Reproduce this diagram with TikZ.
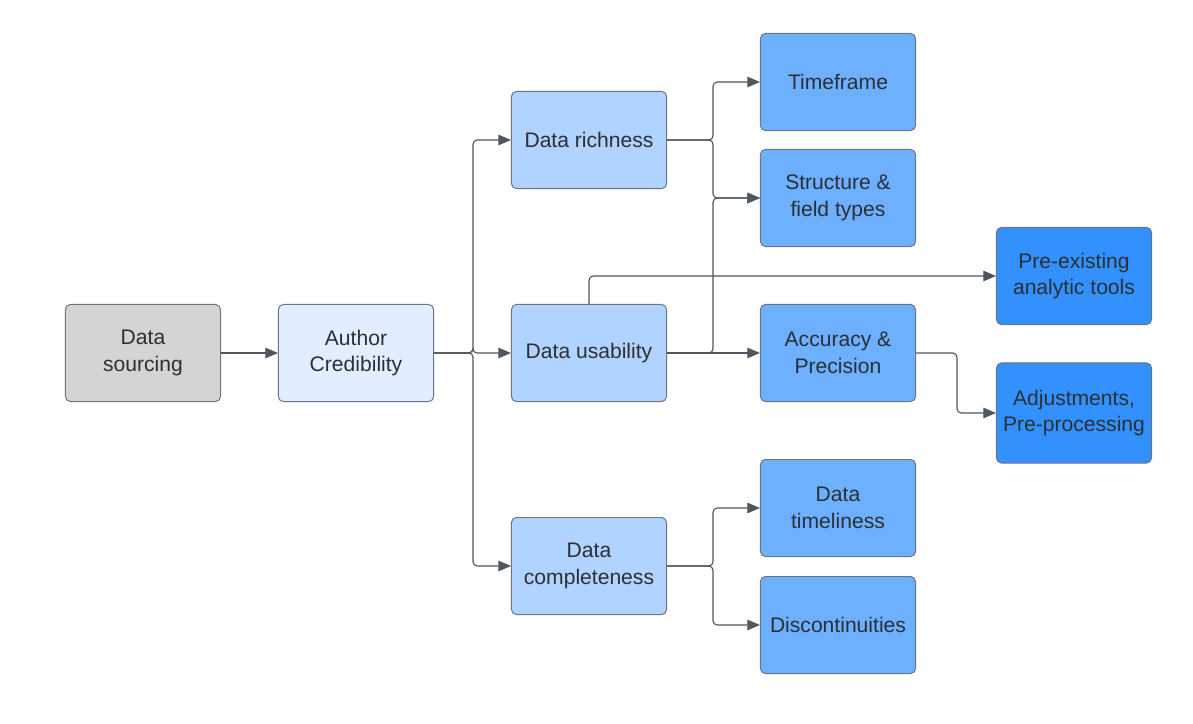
\documentclass[tikz,border=0pt]{standalone}
\usepackage{fontspec}
\setmainfont{Liberation Sans}
\usetikzlibrary{arrows.meta}
\definecolor{edgegrey}{HTML}{6C7480}
\definecolor{linegrey}{HTML}{50565F}
\definecolor{txtdark}{HTML}{2B2F36}
\definecolor{fillgrey}{HTML}{D4D4D4}
\definecolor{fillpale}{HTML}{E1EEFF}
\definecolor{filllight}{HTML}{B1D3FF}
\definecolor{fillmid}{HTML}{6CB0FF}
\definecolor{filldeep}{HTML}{3291FF}
\tikzset{
	box/.style = {draw = edgegrey, line width = 0.7pt, rounded corners = 3.5pt, minimum width = 3.875cm, minimum height = 2.425cm, align = center, text = txtdark, font = \fontsize{15}{19}\selectfont},
	grey/.style = {fill = fillgrey},
	pale/.style = {fill = fillpale},
	light/.style = {fill = filllight},
	mid/.style = {fill = fillmid},
	deep/.style = {fill = filldeep},
	conn/.style = {draw = linegrey, line width = 0.8pt, rounded corners = 3pt, -{Triangle[length = 9pt, width = 7.5pt]}}
}
\begin{document}
\begin{tikzpicture}[x = 0.025cm, y = -0.025cm]
	\useasboundingbox (0, 0) rectangle (1193, 724);
	\foreach \name/\x/\y/\kind/\txt in {src/143/353/grey/{Data\\sourcing}, cred/356/353/pale/{Author\\Credibility},
		rich/589/140/light/{Data richness}, usab/589/353/light/{Data usability}, compl/589/566/light/{Data\\completeness},
		time/838/82/mid/{Timeframe}, struct/838/198/mid/{Structure \&\\field types}, acc/838/353/mid/{Accuracy \&\\Precision},
		timel/838/508/mid/{Data\\timeliness}, disc/838/625/mid/{Discontinuities},
		tools/1074/276/deep/{Pre-existing\\analytic tools}}{
		\node[box, \kind] (\name) at (\x, \y) {\txt};}
	\node[box, deep, minimum height = 2.5cm] (adj) at (1074, 413) {Adjustments,\\Pre-processing};
	\draw[conn] (src) -- (cred);
	\foreach \to in {rich, usab, compl}{
		\draw[conn] (cred.east) -- +(39, 0) |- (\to.west);}
	\foreach \to in {time, struct}{
		\draw[conn] (rich.east) -- +(46, 0) |- (\to.west);}
	\draw[conn] (usab.east) -- +(46, 0) |- (struct.west);
	\draw[conn] (usab) -- (acc);
	\draw[conn] (usab.north) |- (tools.west);
	\draw[conn] (acc.east) -- +(41, 0) |- (adj.west);
	\foreach \to in {timel, disc}{
		\draw[conn] (compl.east) -- +(46, 0) |- (\to.west);}
\end{tikzpicture}
\end{document}
